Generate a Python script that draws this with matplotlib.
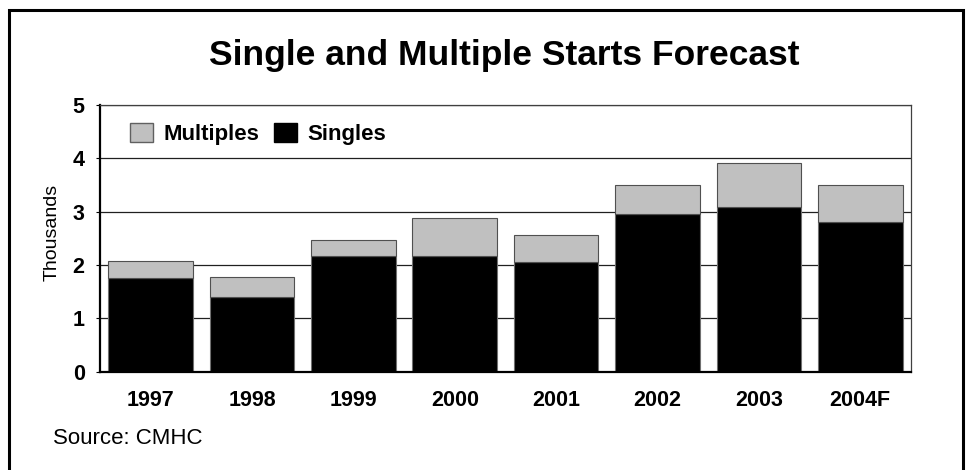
import numpy as np
import matplotlib
matplotlib.use('Agg')
import matplotlib.pyplot as plt
from matplotlib.patches import Rectangle, Patch

plt.rcParams['font.family'] = ['Liberation Sans', 'DejaVu Sans']

# data (thousands of starts)
years = ['1997', '1998', '1999', '2000', '2001', '2002', '2003', '2004F']
singles = [1.75, 1.40, 2.17, 2.16, 2.05, 2.96, 3.08, 2.81]
totals = [2.07, 1.77, 2.47, 2.88, 2.57, 3.50, 3.91, 3.50]
multiples = [t - s for t, s in zip(totals, singles)]

fig = plt.figure(figsize=(9.67, 4.70), dpi=100)
ax = fig.add_axes([0.1034, 0.209, 0.8386, 0.568])

x = np.arange(len(years))
ax.bar(x, singles, width=0.835, color='black', edgecolor='#707070', linewidth=0.8, zorder=2)
ax.bar(x, multiples, bottom=singles, width=0.835, color='#c0c0c0', edgecolor='#505050',
       linewidth=0.8, zorder=2)

ax.set_xlim(-0.5, 7.5)
ax.set_ylim(0, 5)
ax.set_yticks([0, 1, 2, 3, 4, 5])
ax.set_xticks(x)
ax.set_xticklabels(years, fontsize=15.5, fontweight='bold')
for lab in ax.get_yticklabels():
    lab.set_fontsize(15.5)
    lab.set_fontweight('bold')
ax.tick_params(axis='x', length=0, pad=13)
ax.tick_params(axis='y', length=3, width=0.8, pad=8)

ax.yaxis.grid(True, color='#202020', linewidth=0.9, zorder=0)
ax.set_axisbelow(True)
for side in ['top', 'right']:
    ax.spines[side].set_color('#404040')
    ax.spines[side].set_linewidth(0.9)
for side in ['left', 'bottom']:
    ax.spines[side].set_linewidth(1.6)

handles = [Patch(facecolor='#c0c0c0', edgecolor='#606060', label='Multiples'),
           Patch(facecolor='black', edgecolor='black', label='Singles')]
ax.legend(handles=handles, loc='upper left', bbox_to_anchor=(0.023, 0.972), ncol=2,
          frameon=False, prop={'weight': 'bold', 'size': 16}, borderpad=0,
          handlelength=1.05, handleheight=0.93, handletextpad=0.45, columnspacing=0.68)

fig.text(504.5 / 967, 1 - 56 / 470, 'Single and Multiple Starts Forecast', ha='center',
         va='center', fontsize=25.5, fontweight='bold')
fig.text(52 / 967, 1 - 232 / 470, 'Thousands', ha='center', va='center',
         rotation=90, fontsize=14)
fig.text(53 / 967, 1 - 438 / 470, 'Source: CMHC', ha='left', va='center', fontsize=16)

fig.patches.append(Rectangle((9 / 967, -0.05), 954 / 967, 1.05 - 10 / 470,
                             transform=fig.transFigure, fill=False,
                             edgecolor='black', linewidth=2.2))

fig.savefig('out.png', dpi=100)
